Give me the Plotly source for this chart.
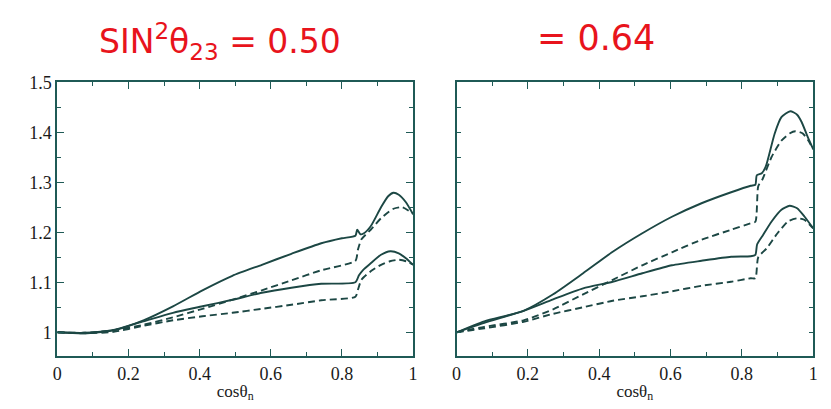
import plotly.graph_objects as go

# ---- data: sin^2(theta23) = 0.50 (left panel) ----
L_up_solid_x = [0, 0.075, 0.158, 0.242, 0.325, 0.408, 0.492, 0.575, 0.658, 0.742, 0.80, 0.838, 0.843, 0.852, 0.862, 0.881, 0.91, 0.93, 0.945, 0.96, 0.98, 1.0]
L_up_solid_y = [1.0, 0.998, 1.004, 1.024, 1.052, 1.084, 1.113, 1.135, 1.157, 1.178, 1.188, 1.193, 1.205, 1.196, 1.198, 1.212, 1.25, 1.272, 1.279, 1.275, 1.26, 1.236]
L_up_dash_x = [0, 0.075, 0.158, 0.242, 0.325, 0.408, 0.492, 0.575, 0.658, 0.742, 0.838, 0.845, 0.855, 0.881, 0.91, 0.945, 0.97, 1.0]
L_up_dash_y = [1.0, 0.999, 1.004, 1.015, 1.030, 1.047, 1.065, 1.084, 1.104, 1.124, 1.143, 1.165, 1.186, 1.205, 1.228, 1.247, 1.25, 1.237]
L_lo_solid_x = [0, 0.075, 0.158, 0.242, 0.325, 0.408, 0.492, 0.575, 0.658, 0.742, 0.838, 0.848, 0.86, 0.881, 0.91, 0.936, 0.96, 0.98, 1.0]
L_lo_solid_y = [1.0, 0.999, 1.005, 1.022, 1.039, 1.052, 1.065, 1.079, 1.089, 1.097, 1.100, 1.114, 1.125, 1.138, 1.155, 1.162, 1.158, 1.148, 1.135]
L_lo_dash_x = [0, 0.075, 0.158, 0.242, 0.325, 0.408, 0.492, 0.575, 0.658, 0.742, 0.838, 0.845, 0.855, 0.881, 0.91, 0.935, 0.96, 0.98, 1.0]
L_lo_dash_y = [1.0, 0.998, 1.001, 1.013, 1.024, 1.032, 1.039, 1.047, 1.055, 1.064, 1.071, 1.085, 1.105, 1.122, 1.135, 1.142, 1.145, 1.142, 1.135]

# ---- data: sin^2(theta23) = 0.64 (right panel) ----
R_up_solid_x = [0, 0.078, 0.188, 0.271, 0.355, 0.438, 0.521, 0.604, 0.687, 0.77, 0.825, 0.838, 0.842, 0.856, 0.867, 0.892, 0.911, 0.936, 0.955, 0.968, 0.985, 1.0]
R_up_solid_y = [1.0, 1.022, 1.043, 1.076, 1.118, 1.161, 1.198, 1.231, 1.258, 1.280, 1.293, 1.295, 1.314, 1.318, 1.331, 1.397, 1.43, 1.442, 1.435, 1.42, 1.39, 1.366]
R_up_dash_x = [0, 0.078, 0.188, 0.271, 0.355, 0.438, 0.521, 0.604, 0.687, 0.77, 0.825, 0.838, 0.846, 0.858, 0.883, 0.911, 0.935, 0.95, 0.97, 0.985, 1.0]
R_up_dash_y = [1.0, 1.011, 1.024, 1.046, 1.076, 1.105, 1.134, 1.160, 1.185, 1.205, 1.218, 1.221, 1.292, 1.306, 1.35, 1.383, 1.398, 1.402, 1.398, 1.385, 1.366]
R_lo_solid_x = [0, 0.078, 0.188, 0.271, 0.355, 0.438, 0.521, 0.604, 0.687, 0.77, 0.825, 0.838, 0.843, 0.86, 0.883, 0.911, 0.934, 0.955, 0.975, 1.0]
R_lo_solid_y = [1.0, 1.019, 1.043, 1.066, 1.088, 1.101, 1.118, 1.134, 1.143, 1.151, 1.152, 1.155, 1.176, 1.195, 1.221, 1.245, 1.253, 1.248, 1.232, 1.208]
R_lo_dash_x = [0, 0.078, 0.188, 0.271, 0.355, 0.438, 0.521, 0.604, 0.687, 0.77, 0.825, 0.838, 0.846, 0.87, 0.9, 0.93, 0.955, 0.975, 1.0]
R_lo_dash_y = [1.0, 1.008, 1.021, 1.037, 1.050, 1.063, 1.072, 1.082, 1.093, 1.101, 1.108, 1.108, 1.150, 1.168, 1.198, 1.222, 1.228, 1.225, 1.208]

x_tickvals = [0, 0.2, 0.4, 0.6, 0.8, 1]
x_ticktext = ["0", "0.2", "0.4", "0.6", "0.8", "1"]
y_tickvals = [1, 1.1, 1.2, 1.3, 1.4, 1.5]
y_ticktext = ["1", "1.1", "1.2", "1.3", "1.4", "1.5"]
x_title = "cosθ<sub>n</sub>"
title_left = "SIN<sup>2</sup>θ<sub>23</sub> = 0.50"
title_right = "= 0.64"

LINE = "#1c4744"
AX = "#1f5a56"

fig = go.Figure()

def add(x, y, dash, xa, ya):
    fig.add_trace(go.Scatter(
        x=x, y=y, mode="lines", xaxis=xa, yaxis=ya,
        line=dict(color=LINE, width=1.9, dash=dash, shape="spline", smoothing=0.6),
        showlegend=False, hoverinfo="skip"))

for xs, ys, d in [(L_up_solid_x, L_up_solid_y, "solid"), (L_up_dash_x, L_up_dash_y, "7px,4px"),
                  (L_lo_solid_x, L_lo_solid_y, "solid"), (L_lo_dash_x, L_lo_dash_y, "7px,4px")]:
    add(xs, ys, d, "x", "y")
for xs, ys, d in [(R_up_solid_x, R_up_solid_y, "solid"), (R_up_dash_x, R_up_dash_y, "7px,4px"),
                  (R_lo_solid_x, R_lo_solid_y, "solid"), (R_lo_dash_x, R_lo_dash_y, "7px,4px")]:
    add(xs, ys, d, "x2", "y2")

W, H = 831, 409
ydom = [1 - 355 / H, 1 - 74 / H]

tickfont = dict(family="Liberation Serif, Times New Roman, serif", size=18, color="#1a1a1a")

def xaxis(dom, anchor):
    return dict(domain=dom, anchor=anchor, range=[0, 1], tickmode="array",
                tickvals=x_tickvals, ticktext=x_ticktext, ticks="inside", ticklen=7,
                tickwidth=1.3, tickcolor=AX, showline=True, linecolor=AX, linewidth=2,
                mirror="ticks", showgrid=False, zeroline=False, tickfont=tickfont,
                minor=dict(dtick=0.1, tick0=0, ticks="inside", ticklen=4, tickwidth=1.3,
                           tickcolor=AX, showgrid=False),
                title=dict(text=x_title, font=dict(family="Liberation Serif, serif", size=17, color="#1a1a1a"),
                           standoff=2))

def yaxis(dom, anchor, labels):
    return dict(domain=dom, anchor=anchor, range=[0.952, 1.5], tickmode="array",
                tickvals=y_tickvals, ticktext=y_ticktext if labels else [""] * 6,
                showticklabels=labels, ticks="inside", ticklen=7,
                tickwidth=1.3, tickcolor=AX, showline=True, linecolor=AX, linewidth=2,
                mirror="ticks", showgrid=False, zeroline=False, tickfont=tickfont,
                minor=dict(dtick=0.05, tick0=1, ticks="inside", ticklen=4, tickwidth=1.3,
                           tickcolor=AX, showgrid=False))

fig.update_layout(
    width=W, height=H, margin=dict(l=0, r=0, t=0, b=0),
    paper_bgcolor="white", plot_bgcolor="white",
    xaxis=xaxis([53 / W, 413 / W], "y"),
    yaxis=yaxis(ydom, "x", True),
    xaxis2=xaxis([457 / W, 818 / W], "y2"),
    yaxis2=yaxis(ydom, "x2", False),
    annotations=[
        dict(text=title_left, x=93 / W, y=1 - 6 / H, xref="paper", yref="paper",
             xanchor="left", yanchor="top", showarrow=False,
             font=dict(family="DejaVu Sans, sans-serif", size=33, color="#e8141c")),
        dict(text=title_right, x=536 / W, y=1 - 6 / H, xref="paper", yref="paper",
             xanchor="left", yanchor="top", showarrow=False,
             font=dict(family="DejaVu Sans, sans-serif", size=35, color="#e8141c")),
    ],
)

fig.write_html("out.html")
